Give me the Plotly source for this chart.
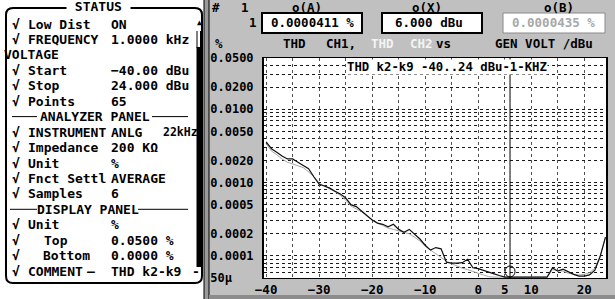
import plotly.graph_objects as go

# ---------------- data ----------------
GEN_VOLT = [-40, -39, -38, -37, -36, -35, -34, -33, -32, -31,
            -30, -29, -28, -27, -26, -25, -24, -23, -22, -21,
            -20, -19, -18, -17, -16, -15, -14, -13, -12, -11,
            -10, -9, -8, -7, -6, -5, -4, -3, -2, -1,
            0, 1, 2, 3, 4, 5, 6, 7, 8, 9,
            10, 11, 12, 13, 14, 15, 16, 17, 18, 19,
            20, 21, 22, 23, 24]

THD_CH1 = [0.0036, 0.0029, 0.0026, 0.0023, 0.0021, 0.0021, 0.0019, 0.0017, 0.00155, 0.0012,
           0.00095, 0.00090, 0.00084, 0.00076, 0.00070, 0.00062, 0.00050, 0.00047, 0.00041, 0.00036,
           0.00031, 0.00028, 0.00027, 0.00025, 0.00027, 0.00023, 0.00021, 0.00023, 0.00020, 0.00017,
           0.00014, 0.00012, 0.00013, 0.000125, 0.000082, 0.000080, 0.000080, 0.000081, 0.000090, 0.000069,
           0.000067, 0.000064, 0.000060, 0.000057, 0.000054, 0.000051, 0.0000411, 0.000040, 0.000042, 0.000041,
           0.000039, 0.000040, 0.000041, 0.000042, 0.000069, 0.000062, 0.000066, 0.000060, 0.000056, 0.000053,
           0.000053, 0.000055, 0.000064, 0.000098, 0.00018]

THD_CH2 = [0.0034, 0.0027, 0.0024, 0.0021, 0.0019, 0.0018, 0.0017, 0.0016, 0.0014, 0.0012,
           0.00098, 0.00090, 0.00082, 0.00075, 0.00067, 0.00058, 0.00048, 0.00044, 0.00040, 0.00035,
           0.00031, 0.00028, 0.00026, 0.00024, 0.00023, 0.00022, 0.00021, 0.00020, 0.00018, 0.00016,
           0.000135, 0.00012, 0.000105, 0.000095, 0.000085, 0.000078, 0.000072, 0.000068, 0.000065, 0.000062,
           0.000058, 0.000055, 0.000052, 0.000050, 0.000048, 0.000046, 0.0000435, 0.000043, 0.000043, 0.000043,
           0.000043, 0.000043, 0.000043, 0.000044, 0.000065, 0.000064, 0.000062, 0.000058, 0.000056, 0.000055,
           0.000056, 0.000059, 0.000068, 0.000100, 0.00018]

Y_TICK_VALS = [0.05, 0.02, 0.01, 0.005, 0.002, 0.001, 0.0005, 0.0002, 0.0001, 0.00005]
Y_TICK_TEXT = ["0.0500", "0.0200", "0.0100", "0.0050", "0.0020", "0.0010",
               "0.0005", "0.0002", "0.0001", "50µ\u00a0\u00a0\u00a0"]
X_TICK_VALS = [-40, -30, -20, -10, 0, 5, 10, 20]
X_TICK_TEXT = ["\u221240", "\u221230", "\u221220", "\u221210", "0", "5", "10", "20"]

Y_TOP = 0.05
Y_BOTTOM = 0.00005
X_RANGE = [-40.4, 24.1]

CURSOR_X = 6.0
CURSOR_A = "0.0000411 %"
CURSOR_XTXT = "6.000 dBu"
CURSOR_B = "0.0000435 %"
COMMENT = "THD k2-k9 -40..24 dBu-1-KHZ"

# ---------------- geometry helpers ----------------
W, H = 615, 299
L, R, T, B = 264, 9, 58, 21
PW, PH = W - L - R, H - T - B
FONT = "DejaVu Sans Mono"
FS = 12
FS_PANEL = 13
FS_HEAD = 12.5


def px(x):
    return (x - L) / PW


def py(y):
    return (H - B - y) / PH


def txt(x, y, s, anchor="left", color="black", size=FS, bg=None):
    d = dict(x=px(x), y=py(y), xref="paper", yref="paper", text=s, showarrow=False,
             xanchor=anchor, yanchor="middle", borderpad=0,
             font=dict(family=FONT, size=size, color=color, weight="bold"))
    if bg:
        d["bgcolor"] = bg
    return d


def rect(x0, y0, x1, y1, fill, line="black", lw=1, layer="above"):
    return dict(type="rect", xref="paper", yref="paper", x0=px(x0), x1=px(x1),
                y0=py(y1), y1=py(y0), fillcolor=fill, layer=layer,
                line=dict(color=line, width=lw))


def hline(x0, x1, y, color="black", lw=1):
    return dict(type="line", xref="paper", yref="paper", x0=px(x0), x1=px(x1),
                y0=py(y), y1=py(y), line=dict(color=color, width=lw))


def vline(x, y0, y1, color="black", lw=1):
    return dict(type="line", xref="paper", yref="paper", x0=px(x), x1=px(x),
                y0=py(y0), y1=py(y1), line=dict(color=color, width=lw))


# clamp values below the display floor onto the bottom edge (as the analyzer does)
FLOOR = Y_BOTTOM * 1.03
ch1_plot = [max(v, FLOOR) for v in THD_CH1]
ch2_plot = [max(v, FLOOR) for v in THD_CH2]

fig = go.Figure()
fig.add_trace(go.Scatter(x=GEN_VOLT, y=ch2_plot, mode="lines",
                         line=dict(color="#a8a8a8", width=1), name="CH2"))
fig.add_trace(go.Scatter(x=GEN_VOLT, y=ch1_plot, mode="lines",
                         line=dict(color="#101010", width=1.2), name="CH1"))

# minor grid positions for log axis (1..9 per decade)
minor_y = [k * 10.0 ** e for e in range(-5, -1) for k in range(1, 10)
           if Y_BOTTOM * 0.999 <= k * 10.0 ** e <= Y_TOP * 1.001]

GRID_X = dict(gridcolor="#505050", griddash="dot", gridwidth=1)
GRID_Y = dict(gridcolor="#1a1a1a", griddash="dot", gridwidth=1)

fig.update_layout(
    width=W, height=H,
    autosize=False,
    margin=dict(l=L, r=R, t=T, b=B, pad=0, autoexpand=False),
    paper_bgcolor="#c0c0c0",
    plot_bgcolor="white",
    showlegend=False,
    xaxis=dict(range=X_RANGE, tickmode="array", tickvals=X_TICK_VALS, ticktext=X_TICK_TEXT,
               showgrid=True, **GRID_X, automargin=False,
               minor=dict(tickmode="linear", tick0=0, dtick=5, showgrid=True, **GRID_X),
               zeroline=False, showline=True, linecolor="black", linewidth=1, mirror=True,
               ticks="", ticklabelstandoff=0,
               tickfont=dict(family=FONT, size=FS_HEAD, color="black", weight="bold")),
    yaxis=dict(type="log", range=[-4.30103, -1.30103], tickmode="array",
               tickvals=Y_TICK_VALS, ticktext=Y_TICK_TEXT, automargin=False,
               showgrid=True, **GRID_Y,
               minor=dict(tickmode="array", tickvals=minor_y, showgrid=True, **GRID_Y),
               zeroline=False, showline=True, linecolor="black", linewidth=2, mirror=True,
               ticks="", ticklabelstandoff=6,
               tickfont=dict(family=FONT, size=FS, color="black", weight="bold")),
)

shapes = []
ann = []

# ---- left status panel ----
shapes.append(rect(-1, -1, 205, 300, "white", line="white", lw=0, layer="below"))
shapes.append(rect(204, -1, 209, 300, "#9a9a9a", line="black", lw=1, layer="below"))

# rounded border
x0, x1, y0, y1, r = 6, 202, 8, 283, 7
path = (f"M {px(x0 + r)},{py(y0)} L {px(x1 - r)},{py(y0)} Q {px(x1)},{py(y0)} {px(x1)},{py(y0 + r)} "
        f"L {px(x1)},{py(y1 - r)} Q {px(x1)},{py(y1)} {px(x1 - r)},{py(y1)} "
        f"L {px(x0 + r)},{py(y1)} Q {px(x0)},{py(y1)} {px(x0)},{py(y1 - r)} "
        f"L {px(x0)},{py(y0 + r)} Q {px(x0)},{py(y0)} {px(x0 + r)},{py(y0)} Z")
shapes.append(dict(type="path", xref="paper", yref="paper", path=path,
                   line=dict(color="black", width=2)))

ann.append(txt(98, 7, "\u00a0STATUS\u00a0", anchor="center", bg="white", size=FS_PANEL))

ROW_Y = [24, 39.4, 54.9, 70.3, 85.8, 101.2, 116.6, 132.1, 147.5, 163,
         178.4, 193.9, 209.3, 224.7, 240.2, 255.6, 271]
rows = [
    ("√", "Low Dist", "ON", 27),
    ("√", "FREQUENCY", "1.0000 kHz", 27),
    ("", "VOLTAGE", "", 3),
    ("√", "Start", "\u221240.00 dBu", 27),
    ("√", "Stop", "24.000 dBu", 27),
    ("√", "Points", "65", 27),
    None,
    ("√", "INSTRUMENT", "ANLG", 27),
    ("√", "Impedance", "200 KΩ", 27),
    ("√", "Unit", "%", 27),
    ("√", "Fnct Settl", "AVERAGE", 27),
    ("√", "Samples", "6", 27),
    None,
    ("√", "Unit", "%", 27),
    ("√", "Top", "0.0500 %", 43),
    ("√", "Bottom", "0.0000 %", 42),
    ("√", "COMMENT", "THD k2-k9", 27),
]
for yy, row in zip(ROW_Y, rows):
    if row is None:
        continue
    chk, lab, val, lx = row
    if chk:
        ann.append(txt(11, yy, chk, size=FS_PANEL))
    ann.append(txt(lx, yy, lab, size=FS_PANEL))
    if val:
        ann.append(txt(110, yy, val, size=FS_PANEL))
ann.append(txt(162, ROW_Y[7], "22kHz", size=11.5))
ann.append(txt(86, ROW_Y[16], "—", size=FS_PANEL))
ann.append(txt(191, ROW_Y[16], "-", size=FS_PANEL))

# section headings
ann.append(txt(94.5, ROW_Y[6], "ANALYZER PANEL", anchor="center", size=FS_PANEL))
shapes.append(hline(12, 37, ROW_Y[6]))
shapes.append(hline(152, 188, ROW_Y[6]))
ann.append(txt(87.5, ROW_Y[12], "DISPLAY PANEL", anchor="center", size=FS_PANEL))
shapes.append(hline(10, 37, ROW_Y[12]))
shapes.append(hline(138, 188, ROW_Y[12]))

# scrollbar
ann.append(txt(199, 23, "▲", anchor="center", size=8))
shapes.append(vline(197, 31, 48))
shapes.append(vline(200.5, 31, 48))
shapes.append(rect(196.5, 47, 201, 267, "black", line="black", lw=0))

# ---- right header ----
ann.append(txt(215.5, 8, "#", anchor="center", size=FS_HEAD))
ann.append(txt(245, 8, "1", anchor="center", size=FS_HEAD))
ann.append(txt(307, 8, "o(A)", anchor="center", size=FS_HEAD))
ann.append(txt(427, 8, "o(X)", anchor="center", size=FS_HEAD))
ann.append(txt(559, 8, "o(B)", anchor="center", size=FS_HEAD))
ann.append(txt(252.5, 23, "1", anchor="center", size=FS_HEAD))

shapes.append(rect(262, 13, 362, 33, "white", line="black", lw=2))
shapes.append(rect(382, 13, 482, 33, "white", line="black", lw=2))
shapes.append(rect(503, 13, 605, 33, "white", line="#8a8a8a", lw=1))
ann.append(txt(312, 23, CURSOR_A, anchor="center", size=FS_HEAD))
ann.append(txt(429, 23, CURSOR_XTXT, anchor="center", size=FS_HEAD))
ann.append(txt(553, 23, CURSOR_B, anchor="center", color="#a8a8a8", size=FS_HEAD))

ann.append(txt(218.5, 43, "%", anchor="center", size=FS_HEAD))
ann.append(txt(294, 43, "THD", anchor="center", size=FS_HEAD))
ann.append(txt(341, 43, "CH1,", anchor="center", size=FS_HEAD))
ann.append(txt(382, 43, "THD", anchor="center", color="#f4f4f4", size=FS_HEAD))
ann.append(txt(421, 43, "CH2", anchor="center", color="#f4f4f4", size=FS_HEAD))
ann.append(txt(443.5, 43, "vs", anchor="center", size=FS_HEAD))
ann.append(txt(543.5, 43, "GEN VOLT /dBu", anchor="center", size=FS_HEAD))

# bottom dark band
shapes.append(rect(209, 295, 616, 300, "#8c8c8c", line="#8c8c8c", lw=0, layer="below"))

# comment in plot
ann.append(txt(446.5, 67, COMMENT, anchor="center", bg="white", size=12.3))

# cursor line + marker
shapes.append(dict(type="line", xref="x", yref="paper", x0=CURSOR_X, x1=CURSOR_X, y0=0, y1=1,
                   line=dict(color="black", width=1)))
shapes.append(dict(type="circle", xref="x", yref="paper", xsizemode="pixel", ysizemode="pixel",
                   xanchor=CURSOR_X, yanchor=0, x0=-5, x1=5, y0=1, y1=12,
                   line=dict(color="black", width=1)))

fig.update_layout(shapes=shapes, annotations=ann)
fig.write_html("out.html", config=dict(displayModeBar=False),
               post_script="document.body.style.margin='0';document.body.style.overflow='hidden';")
